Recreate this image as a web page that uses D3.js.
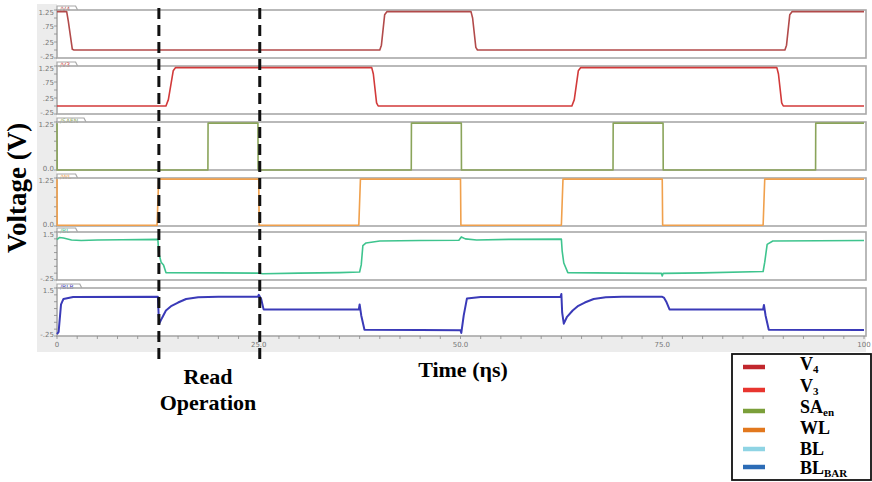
<!DOCTYPE html>
<html><head><meta charset="utf-8">
<script src="https://cdn.jsdelivr.net/npm/d3@7"></script>
<style>body{margin:0;background:#fff}svg{display:block}</style>
</head><body>
<svg id="c" width="872" height="482"></svg>
<script>
// ---- data (time in ns, voltage in V) ----
const v4 = [[0,1.2],[1.2,1.2],[1.4,0.9],[1.9,0.02],[2.1,0],[40.0,0],[40.2,0.15],[40.6,1.1],[40.9,1.2],[51.3,1.2],[51.5,1.0],[51.9,0.08],[52.1,0],[90.2,0],[90.4,0.15],[90.8,1.1],[91.1,1.2],[100,1.2]];
const v3 = [[0,0],[13.5,0],[13.8,0.2],[14.4,1.1],[14.7,1.2],[39.0,1.2],[39.2,1.0],[39.6,0.1],[39.8,0],[63.8,0],[64.1,0.2],[64.6,1.1],[64.9,1.2],[89.2,1.2],[89.4,1.0],[89.8,0.1],[90.0,0],[100,0]];
const saen = [[0,1.22],[0.02,0],[18.7,0],[18.72,1.22],[24.9,1.22],[24.92,0],[43.9,0],[43.92,1.22],[50.1,1.22],[50.12,0],[68.9,0],[68.92,1.22],[75.1,1.22],[75.12,0],[94.0,0],[94.02,1.22],[100,1.22]];
const wl = [[0,1.22],[0.02,0.02],[12.4,0.02],[12.6,1.22],[25.0,1.22],[25.05,0.02],[37.4,0.02],[37.6,1.22],[50.0,1.22],[50.05,0.02],[62.5,0.02],[62.7,1.22],[75.0,1.22],[75.05,0.02],[87.5,0.02],[87.7,1.22],[100,1.22]];
const bl = [[0,1.22],[0.3,1.30],[0.8,1.28],[1.8,1.21],[3,1.19],[5,1.21],[8,1.22],[12.5,1.23],[12.6,0.75],[12.9,0.4],[13.2,0.3],[13.5,0.02],[20,0.01],[25,0.0],[25.5,-0.02],[30,0.0],[35,0.02],[37.5,0.04],[37.7,0.3],[37.9,1.0],[38.3,1.1],[40,1.17],[45,1.19],[49.8,1.2],[50.1,1.32],[50.6,1.25],[52,1.21],[56,1.23],[62.5,1.24],[62.6,0.8],[62.8,0.37],[63.3,0.02],[70,0.0],[74.9,-0.01],[75,-0.10],[75.1,-0.01],[80,0.01],[87.5,0.06],[87.7,0.4],[88,1.05],[88.7,1.17],[100,1.19]];
const blbar = [[0,-0.18],[0.2,-0.1],[0.5,0.9],[0.8,1.1],[2,1.17],[12.5,1.18],[12.6,0.5],[12.7,0.22],[13.0,0.4],[13.5,0.68],[14.2,0.85],[15,0.97],[16,1.1],[17.5,1.16],[20,1.18],[24.9,1.18],[25.0,1.25],[25.3,1.1],[25.6,0.72],[30,0.72],[37.4,0.72],[37.5,0.9],[37.7,0.5],[38.1,-0.02],[45,-0.03],[50.0,-0.04],[50.1,-0.14],[50.4,0.5],[50.8,1.12],[52.5,1.17],[62.4,1.18],[62.5,1.28],[62.6,0.6],[62.8,0.2],[63.2,0.45],[63.9,0.68],[64.6,0.85],[65.4,0.97],[66.5,1.1],[68,1.16],[70,1.18],[75,1.18],[75.2,1.15],[75.5,1.0],[75.9,0.72],[80,0.72],[87.5,0.72],[87.6,0.88],[87.8,0.5],[88.2,-0.02],[100,-0.03]];

const tabLabels = ["/V4","/V3","/SAEN","/WL","/BL","/BLB"];
const yDomains = [[-0.25,1.25],[-0.25,1.25],[0,1.25],[0,1.25],[-0.25,1.5],[-0.25,1.5]];
const yTickLabels = [[1.25,0.75,0.25,-0.25],[1.25,0.75,0.25,-0.25],[1.25,0],[1.25,0],[1.5,-0.25],[1.5,-0.25]];
const xTickValues = [0,25,50,75,100];
const xTickLabels = ["0","25.0","50.0","75.0","100"];
const readMarkers = [12.5,25];
const legendNames = [["V","4"],["V","3"],["SA","en"],["WL",""],["BL",""],["BL","BAR"]];
const legendColors = ["#c1272d","#e8352f","#7b9f3a","#e2781e","#8fd4e4","#2c6cb6"];
const lineColors = ["#b24a4a","#d23a3a","#8aa45a","#f0a04c","#3ec48e","#3a3ab8"];
const series = [v4,v3,saen,wl,bl,blbar];

// ---- layout ----
const svg = d3.select("#c");
const x = d3.scaleLinear().domain([0,100]).range([57,864]);
const panelTops = [10,66,122,178,232,288];
const panelH = 48;
const left = 57, right = 866;

svg.append("rect").attr("x",37).attr("y",4).attr("width",20).attr("height",348).attr("fill","#ececec");
svg.append("rect").attr("x",37).attr("y",336).attr("width",right-37).attr("height",16).attr("fill","#ececec");

series.forEach((data,i)=>{
  const top = panelTops[i], bot = top+panelH;
  const y = d3.scaleLinear().domain(yDomains[i]).range([bot,top]);
  const dom = yDomains[i];
  const g = svg.append("g");
  g.append("rect").attr("x",left).attr("y",top).attr("width",right-left).attr("height",panelH).attr("fill","#fff");
  const tw = tabLabels[i].length*4.2+6;
  g.append("path").attr("d",`M${left},${top} V${top-4} H${left+tw} L${left+tw+2},${top}`)
    .attr("fill","#fff").attr("stroke","#a8a8a8").attr("stroke-width",1.2);
  g.append("text").attr("x",left+3).attr("y",top+1).attr("font-size",6).attr("font-family","DejaVu Sans")
    .attr("fill",lineColors[i]).text(tabLabels[i]);
  g.append("rect").attr("x",left).attr("y",top).attr("width",right-left).attr("height",panelH)
    .attr("fill","none").attr("stroke","#a8a8a8").attr("stroke-width",1.6);
  const ticks = d3.range(dom[0], dom[1]+0.001, 0.25);
  g.selectAll("line.t").data(ticks).join("line")
    .attr("x1",left-3).attr("x2",left).attr("y1",d=>y(d)).attr("y2",d=>y(d))
    .attr("stroke","#888").attr("stroke-width",0.8);
  g.selectAll("text.yl").data(yTickLabels[i]).join("text")
    .attr("x",left-3)
    .attr("y",d=> d===dom[1] ? y(d)+4.5 : (d===dom[0] ? y(d)+0.5 : y(d)+2.5))
    .attr("text-anchor","end")
    .attr("font-size",7).attr("font-family","DejaVu Sans").attr("fill","#777")
    .text(d=> d===0 ? "0.0" : (Math.abs(d)<1 ? (d<0?"-":"")+String(Math.abs(d)).replace(/^0/,"") : String(d)));
  const line = d3.line().x(d=>x(d[0])).y(d=>y(d[1]));
  g.append("path").datum(data).attr("d",line).attr("fill","none")
    .attr("stroke",lineColors[i]).attr("stroke-width", i===5?2:1.6).attr("stroke-linejoin","round");
});

const xb = panelTops[5]+panelH;
svg.selectAll("line.xt").data(d3.range(0,100.01,2.5)).join("line")
  .attr("x1",d=>x(d)).attr("x2",d=>x(d)).attr("y1",xb).attr("y2",xb+3)
  .attr("stroke","#888").attr("stroke-width",0.8);
svg.selectAll("text.xl").data(xTickValues).join("text")
  .attr("x",d=>x(d)).attr("y",xb+11).attr("text-anchor","middle")
  .attr("font-size",7).attr("font-family","DejaVu Sans").attr("fill","#777")
  .text((d,i)=>xTickLabels[i]);

svg.selectAll("line.m").data(readMarkers).join("line")
  .attr("x1",d=>x(d)+1).attr("x2",d=>x(d)+1).attr("y1",8).attr("y2",362)
  .attr("stroke","#111").attr("stroke-width",3).attr("stroke-dasharray","11,6");

const serif = "Liberation Serif";
svg.append("text").attr("x",208).attr("y",384).attr("text-anchor","middle")
  .attr("font-family",serif).attr("font-weight","bold").attr("font-size",22).text("Read");
svg.append("text").attr("x",208).attr("y",410).attr("text-anchor","middle")
  .attr("font-family",serif).attr("font-weight","bold").attr("font-size",22).text("Operation");
svg.append("text").attr("x",463).attr("y",377).attr("text-anchor","middle")
  .attr("font-family",serif).attr("font-weight","bold").attr("font-size",22).text("Time (ηs)");
svg.append("text").attr("transform","translate(26,188) rotate(-90)").attr("text-anchor","middle")
  .attr("font-family",serif).attr("font-weight","bold").attr("font-size",27).text("Voltage (V)");

const lg = svg.append("g");
lg.append("rect").attr("x",732).attr("y",354).attr("width",139).attr("height",126)
  .attr("fill","#fff").attr("stroke","#111").attr("stroke-width",1.8);
const swY = [367,390,411,430,449,467];
const txY = [370,392,413,434,455,474];
legendNames.forEach((n,i)=>{
  lg.append("line").attr("x1",743).attr("x2",765).attr("y1",swY[i]).attr("y2",swY[i])
    .attr("stroke",legendColors[i]).attr("stroke-width",4.5);
  const t = lg.append("text").attr("x",800).attr("y",txY[i]).attr("font-family",serif)
    .attr("font-weight","bold").attr("font-size",18).text(n[0]);
  if(n[1]) t.append("tspan").attr("dy",3).attr("font-size",11).text(n[1]);
});
</script>
</body></html>
